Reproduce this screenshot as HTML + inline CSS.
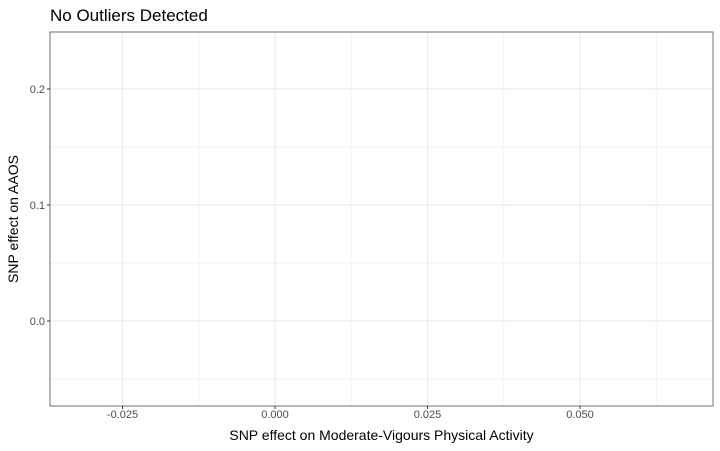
<!DOCTYPE html>
<html><head><meta charset="utf-8"><style>
html,body{margin:0;padding:0;background:#fff;}
svg{display:block;font-family:"Liberation Sans",sans-serif;}
</style></head><body>
<svg id="chart" width="720" height="451" viewBox="0 0 720 451">
<rect width="720" height="451" fill="#fff"/>
<text x="50" y="21" font-size="17" fill="#000">No Outliers Detected</text>
<g id="grid"></g>
<g id="axes"></g>
<rect x="50" y="32" width="663" height="374" fill="none" stroke="#333" stroke-width="1" opacity="0.7"/>
<text x="381.5" y="440" font-size="14" text-anchor="middle" fill="#000">SNP effect on Moderate-Vigours Physical Activity</text>
<text transform="translate(18,219) rotate(-90)" font-size="14" text-anchor="middle" fill="#000">SNP effect on AAOS</text>
</svg>
<script>
const xTicks = [-0.025, 0.0, 0.025, 0.05];
const xTickLabels = ["-0.025", "0.000", "0.025", "0.050"];
const xMinor = [-0.0125, 0.0125, 0.0375, 0.0625];
const yTicks = [0.0, 0.1, 0.2];
const yTickLabels = ["0.0", "0.1", "0.2"];
const yMinor = [-0.05, 0.05, 0.15];
const xDomain = [-0.03689, 0.07180];
const yDomain = [-0.07328, 0.24914];
const L=50,R=713,T=32,B=406;
function xs(v){return L+(v-xDomain[0])/(xDomain[1]-xDomain[0])*(R-L);}
function ys(v){return B-(v-yDomain[0])/(yDomain[1]-yDomain[0])*(B-T);}
const NS="http://www.w3.org/2000/svg";
const grid=document.getElementById('grid'), axes=document.getElementById('axes');
function line(p,x1,y1,x2,y2,c,w,name){const l=document.createElementNS(NS,'line');
l.setAttribute('x1',x1);l.setAttribute('y1',y1);l.setAttribute('x2',x2);l.setAttribute('y2',y2);
l.setAttribute('stroke',c);l.setAttribute('stroke-width',w);


p.appendChild(l);}
function txt(p,x,y,s,anchor,name){const t=document.createElementNS(NS,'text');
t.setAttribute('x',x);t.setAttribute('y',y);t.setAttribute('font-size','11');t.setAttribute('fill','#4d4d4d');t.setAttribute('text-anchor',anchor);t.textContent=s;


p.appendChild(t);}
xMinor.forEach(v=>line(grid,xs(v),T,xs(v),B,'#f2f2f2',1,'x-minor-gridline'));
yMinor.forEach(v=>line(grid,L,ys(v),R,ys(v),'#f2f2f2',1,'y-minor-gridline'));
xTicks.forEach((v,i)=>{const x=xs(v);line(grid,x,T,x,B,'#ebebeb',1.2,'x-major-gridline');
line(axes,x,B,x,B+3,'#333',1,'x-tick');txt(axes,x,418,xTickLabels[i],'middle','x-tick-label');});
yTicks.forEach((v,i)=>{const y=ys(v);line(grid,L,y,R,y,'#ebebeb',1.2,'y-major-gridline');
line(axes,L-3,y,L,y,'#333',1,'y-tick');txt(axes,L-5,y+4,yTickLabels[i],'end','y-tick-label');});
</script>
</body></html>
